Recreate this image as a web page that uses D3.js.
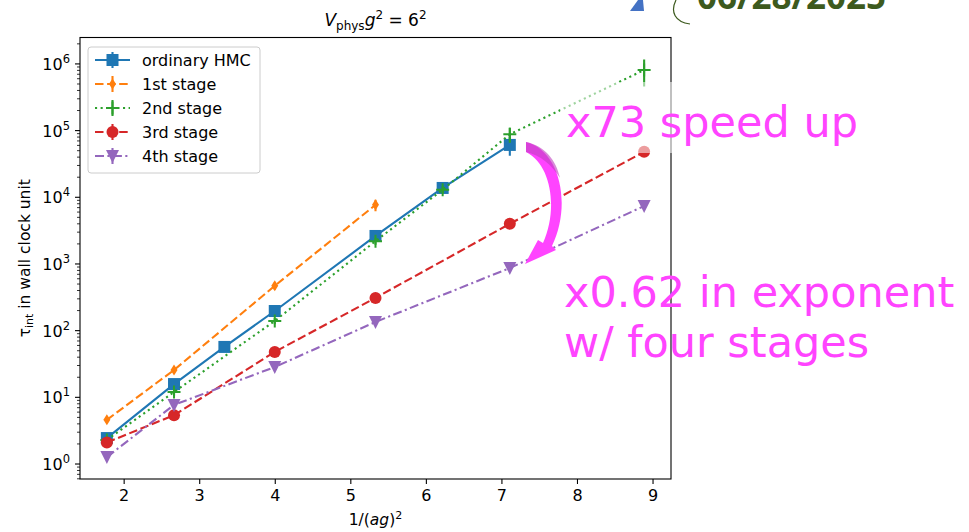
<!DOCTYPE html>
<html>
<head>
<meta charset="utf-8">
<script src="https://cdn.jsdelivr.net/npm/d3@7"></script>
<style>
  body { margin: 0; background: #fff; }
  svg { display: block; font-family: "DejaVu Sans", sans-serif; }
</style>
</head>
<body>
<svg width="969" height="532"></svg>
<script>
// tau_int values; x is 1/(ag)^2
const hmcX = [16/9, 24/9, 30/9, 36/9, 48/9, 56/9, 64/9];
const hmcY = [2.45, 15.8, 57, 197, 2630, 13800, 61000];
const hmcErr = [0.2, 1.2, 4, 15, 250, 1500, 19000];

const st1X = [16/9, 24/9, 36/9, 48/9];
const st1Y = [4.6, 25.7, 470, 7700];
const st1Err = [0.4, 2, 60, 1500];

const st2X = [16/9, 24/9, 36/9, 48/9, 56/9, 64/9, 80/9];
const st2Y = [2.3, 12, 140, 2200, 13000, 88000, 810000];
const st2Err = [0.2, 1.5, 15, 250, 1500, 22000, 350000];

const st3X = [16/9, 24/9, 36/9, 48/9, 64/9, 80/9];
const st3Y = [2.1, 5.4, 48, 310, 4000, 48000];
const st3Err = [0.15, 0.4, 4, 25, 300, 4000];

const st4X = [16/9, 24/9, 36/9, 48/9, 64/9, 80/9];
const st4Y = [1.27, 7.7, 28.5, 135, 870, 7400];
const st4Err = [0.08, 0.6, 2, 10, 60, 500];

const xTicks = [2, 3, 4, 5, 6, 7, 8, 9];
const yTicks = [1, 10, 100, 1000, 10000, 100000, 1000000];
const legendLabels = ["ordinary HMC", "1st stage", "2nd stage", "3rd stage", "4th stage"];

const svg = d3.select("svg");
const pLeft = 80, pRight = 671, pTop = 37.5, pBottom = 479;

const x = d3.scaleLinear().domain([1.4222, 9.2444]).range([pLeft, pRight]);
const y = d3.scaleLog().domain([0.596, 2.49e6]).range([pBottom, pTop]);

const lw = 2.1;
const series = [
  {xs: hmcX, ys: hmcY, err: hmcErr, color: "#1f77b4", dash: null, marker: "s"},
  {xs: st1X, ys: st1Y, err: st1Err, color: "#ff7f0e", dash: [8.5, 3.6], marker: "d"},
  {xs: st2X, ys: st2Y, err: st2Err, color: "#2ca02c", dash: [2.1, 3.5], marker: "+"},
  {xs: st3X, ys: st3Y, err: st3Err, color: "#d62728", dash: [8.5, 3.6], marker: "o"},
  {xs: st4X, ys: st4Y, err: st4Err, color: "#9467bd", dash: [9, 3.4, 2.1, 3.4], marker: "v"}
];

function drawMarker(g, type, color, cx, cy) {
  if (type === "s") {
    g.append("rect").attr("x", cx - 6).attr("y", cy - 6).attr("width", 12).attr("height", 12).attr("fill", color);
  } else if (type === "d") {
    g.append("path").attr("d", `M${cx},${cy-5.5}L${cx+3.5},${cy}L${cx},${cy+5.5}L${cx-3.5},${cy}Z`).attr("fill", color);
  } else if (type === "+") {
    g.append("path").attr("d", `M${cx-6.5},${cy}H${cx+6.5}M${cx},${cy-6.5}V${cy+6.5}`)
      .attr("stroke", color).attr("stroke-width", 2);
  } else if (type === "o") {
    g.append("circle").attr("cx", cx).attr("cy", cy).attr("r", 6).attr("fill", color);
  } else if (type === "v") {
    g.append("path").attr("d", `M${cx-6.5},${cy-6}L${cx+6.5},${cy-6}L${cx},${cy+7}Z`).attr("fill", color);
  }
}

svg.append("clipPath").attr("id", "plot").append("rect")
  .attr("x", pLeft).attr("y", pTop).attr("width", pRight - pLeft).attr("height", pBottom - pTop);

const plot = svg.append("g").attr("clip-path", "url(#plot)");

series.forEach(s => {
  const pts = s.xs.map((v, i) => [v, s.ys[i], s.err[i]]);
  const line = d3.line().x(d => x(d[0])).y(d => y(d[1]));
  plot.append("path").datum(pts).attr("d", line)
    .attr("fill", "none").attr("stroke", s.color).attr("stroke-width", lw)
    .attr("stroke-dasharray", s.dash ? s.dash.join(",") : null);
  pts.forEach(d => {
    plot.append("line").attr("x1", x(d[0])).attr("x2", x(d[0]))
      .attr("y1", y(Math.max(d[1] - d[2], 0.6))).attr("y2", y(d[1] + d[2]))
      .attr("stroke", s.color).attr("stroke-width", lw);
    drawMarker(plot, s.marker, s.color, x(d[0]), y(d[1]));
  });
});

// axes
const xAxis = d3.axisBottom(x).tickValues(xTicks).tickSize(5).tickPadding(6).tickFormat(d3.format("d"));
const gx = svg.append("g").attr("transform", `translate(0,${pBottom})`).call(xAxis);
gx.select(".domain").remove();
gx.selectAll("line").attr("stroke", "#000").attr("stroke-width", 1.1);
gx.selectAll("text").attr("font-size", 16).attr("font-family", "DejaVu Sans").attr("fill", "#000");

const gy = svg.append("g").attr("transform", `translate(${pLeft},0)`);
const minor = [];
for (let e = -1; e <= 6; e++) for (let m = 2; m <= 9; m++) {
  const v = m * Math.pow(10, e);
  if (v >= 0.596 && v <= 2.49e6) minor.push(v);
}
gy.selectAll(".minor").data(minor).enter().append("line")
  .attr("x1", -3).attr("x2", 0).attr("y1", d => y(d)).attr("y2", d => y(d))
  .attr("stroke", "#000").attr("stroke-width", 0.8);
gy.selectAll(".major").data(yTicks).enter().append("line")
  .attr("x1", -5).attr("x2", 0).attr("y1", d => y(d)).attr("y2", d => y(d))
  .attr("stroke", "#000").attr("stroke-width", 1.1);
const yl = gy.selectAll(".ylab").data(yTicks).enter().append("text")
  .attr("x", -10).attr("y", d => y(d) + 6).attr("text-anchor", "end")
  .attr("font-size", 16).attr("fill", "#000");
yl.append("tspan").text("10");
yl.append("tspan").attr("font-size", 11.5).attr("dy", -7).text(d => Math.round(Math.log10(d)));

svg.append("rect").attr("x", pLeft).attr("y", pTop).attr("width", pRight - pLeft).attr("height", pBottom - pTop)
  .attr("fill", "none").attr("stroke", "#000").attr("stroke-width", 1.1);

// labels
const title = svg.append("text").attr("x", (pLeft + pRight) / 2).attr("y", 26).attr("text-anchor", "middle")
  .attr("font-size", 17);
title.append("tspan").attr("font-style", "italic").text("V");
title.append("tspan").attr("font-size", 12).attr("dy", 4).text("phys");
title.append("tspan").attr("font-style", "italic").attr("dy", -4).text("g");
title.append("tspan").attr("font-size", 12).attr("dy", -7).text("2");
title.append("tspan").attr("dy", 7).text(" = 6");
title.append("tspan").attr("font-size", 12).attr("dy", -7).text("2");

const xl = svg.append("text").attr("x", (pLeft + pRight) / 2).attr("y", 525).attr("text-anchor", "middle").attr("font-size", 15.5);
xl.append("tspan").text("1/(");
xl.append("tspan").attr("font-style", "italic").text("ag");
xl.append("tspan").text(")");
xl.append("tspan").attr("font-size", 11).attr("dy", -6).text("2");

const ylab = svg.append("text").attr("transform", `translate(30,${(pTop + pBottom) / 2}) rotate(-90)`)
  .attr("text-anchor", "middle").attr("font-size", 15.5);
ylab.append("tspan").text("τ");
ylab.append("tspan").attr("font-size", 11).attr("dy", 3).text("int");
ylab.append("tspan").attr("dy", -3).text(" in wall clock unit");

// legend
const lg = svg.append("g").attr("transform", "translate(88,47)");
lg.append("rect").attr("width", 172).attr("height", 126).attr("rx", 3)
  .attr("fill", "#fff").attr("fill-opacity", 0.8).attr("stroke", "#ccc").attr("stroke-width", 1);
series.forEach((s, i) => {
  const cy = 13 + i * 24;
  lg.append("line").attr("x1", 7).attr("x2", 42).attr("y1", cy).attr("y2", cy)
    .attr("stroke", s.color).attr("stroke-width", lw)
    .attr("stroke-dasharray", s.dash ? s.dash.join(",") : null);
  lg.append("line").attr("x1", 24.5).attr("x2", 24.5).attr("y1", cy - 8).attr("y2", cy + 8)
    .attr("stroke", s.color).attr("stroke-width", lw);
  drawMarker(lg, s.marker, s.color, 24.5, cy);
  lg.append("text").attr("x", 54).attr("y", cy + 6).attr("font-size", 16).text(legendLabels[i]);
});

// overlay annotations
svg.append("rect").attr("x", 560).attr("y", 82).attr("width", 310).attr("height", 71)
  .attr("fill", "#fff").attr("fill-opacity", 0.55);

const pink = "#ff44ff";
svg.append("text").attr("x", 566).attr("y", 137).attr("font-size", 43).attr("fill", pink).text("x73 speed up");
svg.append("text").attr("x", 564).attr("y", 307).attr("font-size", 43).attr("fill", pink).text("x0.62 in exponent");
svg.append("text").attr("x", 564).attr("y", 357).attr("font-size", 43).attr("fill", pink).text("w/ four stages");

// curved arrow
svg.append("path")
  .attr("d", "M526,142 C560,150 572,205 552,246 L556,250 L525,264 L538,240 L543,243 C558,210 552,165 526,152 Z")
  .attr("fill", pink);
svg.append("path")
  .attr("d", "M526,142 C545,146 556,160 560,178 C552,165 540,155 526,152 Z")
  .attr("fill", "#c040c0").attr("fill-opacity", 0.6);

// top-right stamp fragment
svg.append("path").attr("d", "M630,11 L644,11 L643,0 L638,0 Z").attr("fill", "#4472c4");
svg.append("path").attr("d", "M676,0 C670,12 675,22 690,24").attr("fill", "none")
  .attr("stroke", "#3d5a1e").attr("stroke-width", 1.2);
svg.append("text").attr("x", 697).attr("y", 9).attr("font-size", 35).attr("font-weight", "bold")
  .attr("font-family", "Open Sans, sans-serif").attr("fill", "#3d5a1e").text("06/28/2025");
</script>
</body>
</html>
